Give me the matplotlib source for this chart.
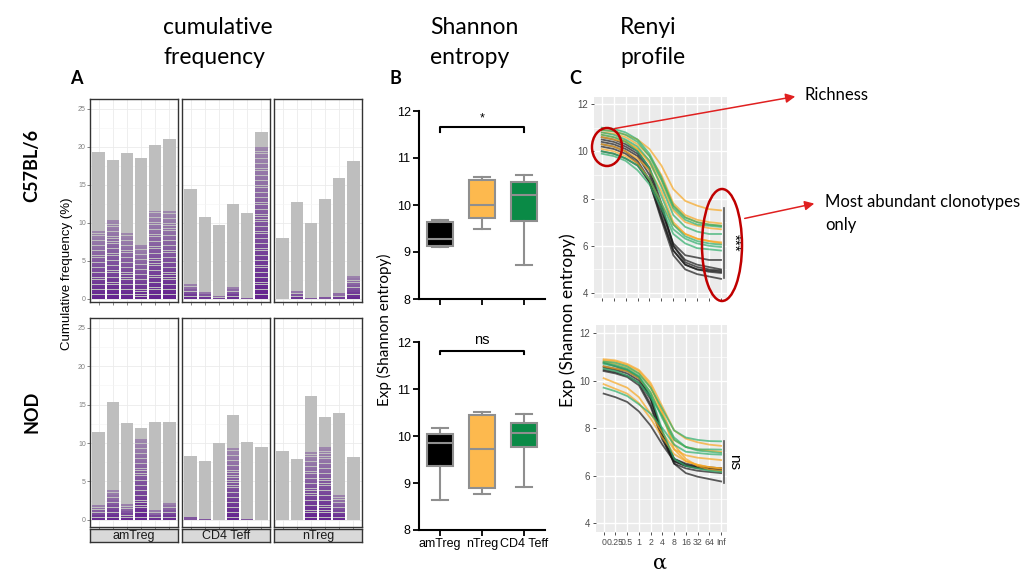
import numpy as np
import matplotlib.pyplot as plt
from matplotlib.patches import Ellipse

plt.rcParams['font.family'] = ['Liberation Sans', 'DejaVu Sans']

###############################################################################
# data

facet_names = ['amTreg', 'CD4 Teff', 'nTreg']

# cumulative frequency (%) : total bar height and height of the purple (top clonotypes) part
cum_b6_total = [[19.3, 18.3, 19.2, 18.6, 20.2, 21.1],
                [14.4, 10.8, 9.7, 12.5, 11.3, 21.9],
                [8.0, 12.8, 10.0, 13.1, 15.9, 18.1]]
cum_b6_purple = [[9.0, 10.5, 8.7, 7.2, 11.7, 11.6],
                 [2.0, 1.0, 0.5, 1.7, 0.2, 20.1],
                 [0.0, 1.1, 0.2, 0.3, 0.8, 3.1]]
cum_nod_total = [[11.5, 15.4, 12.6, 11.9, 12.8, 12.8],
                 [8.3, 7.7, 10.0, 13.6, 10.1, 9.5],
                 [8.9, 7.9, 16.1, 13.4, 13.9, 8.2]]
cum_nod_purple = [[2.0, 3.9, 2.1, 10.6, 1.3, 2.3],
                  [0.4, 0.2, 0.0, 9.4, 0.15, 0.0],
                  [0.0, 0.0, 8.9, 9.6, 3.3, 0.0]]

# Shannon entropy boxes : whislo, q1, med, q3, whishi
box_groups = ['amTreg', 'nTreg', 'CD4 Teff']
box_b6 = [[9.10, 9.12, 9.28, 9.63, 9.69],
          [9.50, 9.73, 10.00, 10.53, 10.60],
          [8.72, 9.65, 10.22, 10.48, 10.63]]
box_nod = [[8.63, 9.37, 9.86, 10.04, 10.16],
           [8.76, 8.89, 9.73, 10.44, 10.51],
           [8.92, 9.77, 10.07, 10.28, 10.46]]

# Renyi profiles
renyi_alpha = ['0', '0.25', '0.5', '1', '2', '4', '8', '16', '32', '64', 'Inf']
renyi_b6_amtreg = [[10.5, 10.4, 10.2, 9.9, 9.2, 7.6, 6.0, 5.4, 5.2, 5.1, 5.0],
                   [10.3, 10.2, 10.0, 9.6, 8.8, 7.3, 5.8, 5.2, 5.0, 4.9, 4.85],
                   [10.2, 10.1, 9.9, 9.5, 8.7, 7.1, 5.6, 5.0, 4.8, 4.7, 4.6],
                   [10.4, 10.3, 10.1, 9.8, 9.0, 7.5, 6.1, 5.6, 5.5, 5.4, 5.4],
                   [10.0, 9.9, 9.7, 9.4, 8.7, 7.2, 5.8, 5.2, 5.0, 4.95, 4.9],
                   [10.6, 10.5, 10.3, 10.0, 9.3, 7.8, 6.0, 5.3, 5.1, 5.0, 4.95]]
renyi_b6_ntreg = [[10.9, 10.85, 10.7, 10.5, 10.1, 9.4, 8.4, 7.9, 7.7, 7.55, 7.5],
                  [10.8, 10.75, 10.6, 10.3, 9.8, 9.0, 7.8, 7.3, 7.1, 7.0, 6.95],
                  [10.7, 10.6, 10.45, 10.1, 9.5, 8.6, 7.5, 7.0, 6.85, 6.75, 6.7],
                  [10.3, 10.2, 10.0, 9.7, 9.2, 8.3, 7.0, 6.5, 6.3, 6.2, 6.15],
                  [10.6, 10.5, 10.4, 10.1, 9.6, 8.8, 7.7, 7.2, 7.0, 6.9, 6.85],
                  [10.1, 10.0, 9.8, 9.5, 8.8, 7.8, 6.9, 6.5, 6.3, 6.2, 6.1]]
renyi_b6_teff = [[11.0, 10.95, 10.8, 10.5, 9.9, 8.9, 7.7, 7.2, 7.0, 6.9, 6.85],
                 [10.9, 10.85, 10.7, 10.4, 9.8, 8.8, 7.6, 7.1, 6.9, 6.85, 6.8],
                 [10.7, 10.6, 10.4, 10.0, 9.3, 8.1, 6.9, 6.4, 6.2, 6.1, 6.05],
                 [10.0, 9.9, 9.7, 9.4, 8.8, 7.8, 6.7, 6.3, 6.1, 6.0, 5.95],
                 [9.9, 9.8, 9.6, 9.2, 8.6, 7.6, 6.5, 6.1, 5.9, 5.85, 5.8],
                 [10.8, 10.7, 10.5, 10.2, 9.6, 8.5, 7.3, 6.8, 6.6, 6.5, 6.5]]
renyi_nod_amtreg = [[10.6, 10.5, 10.4, 10.1, 9.3, 7.8, 6.7, 6.5, 6.4, 6.35, 6.3],
                    [10.45, 10.35, 10.2, 9.9, 9.0, 7.6, 6.5, 6.3, 6.2, 6.15, 6.1],
                    [10.4, 10.3, 10.15, 9.8, 8.9, 7.5, 6.6, 6.4, 6.3, 6.25, 6.2],
                    [10.75, 10.6, 10.45, 10.15, 9.3, 7.7, 6.5, 6.1, 5.95, 5.85, 5.75],
                    [9.45, 9.3, 9.1, 8.7, 8.1, 7.3, 6.6, 6.4, 6.35, 6.3, 6.3],
                    [10.55, 10.45, 10.3, 10.0, 9.2, 7.7, 6.7, 6.45, 6.35, 6.3, 6.25]]
renyi_nod_ntreg = [[10.9, 10.85, 10.7, 10.45, 9.9, 8.9, 7.9, 7.55, 7.4, 7.3, 7.25],
                   [10.85, 10.8, 10.65, 10.4, 9.8, 8.6, 7.1, 6.6, 6.45, 6.35, 6.3],
                   [10.1, 9.9, 9.7, 9.3, 8.6, 7.8, 7.1, 6.85, 6.75, 6.7, 6.65],
                   [10.8, 10.7, 10.55, 10.3, 9.7, 8.7, 7.5, 7.2, 7.1, 7.05, 7.0],
                   [9.85, 9.65, 9.45, 9.05, 8.4, 7.6, 6.9, 6.6, 6.45, 6.35, 6.3],
                   [10.6, 10.5, 10.4, 10.1, 9.5, 8.5, 7.3, 6.7, 6.4, 6.25, 6.2]]
renyi_nod_teff = [[10.8, 10.75, 10.6, 10.3, 9.7, 8.8, 7.9, 7.6, 7.5, 7.45, 7.44],
                  [10.75, 10.65, 10.5, 10.2, 9.5, 8.4, 7.5, 7.2, 7.1, 7.1, 7.09],
                  [9.7, 9.55, 9.35, 9.0, 8.6, 8.0, 7.3, 7.0, 6.95, 6.9, 6.88],
                  [10.7, 10.6, 10.45, 10.15, 9.4, 7.9, 6.7, 6.4, 6.3, 6.2, 6.15],
                  [10.5, 10.4, 10.2, 9.9, 9.3, 8.5, 7.6, 7.2, 7.05, 7.0, 6.95]]

###############################################################################

W, H = 1035, 573
fig = plt.figure(figsize=(W / 100, H / 100), dpi=100)


def px_axes(l, t, r, b):
    # axes placed by pixel box (left, top, right, bottom)
    return fig.add_axes([l / W, 1 - b / H, (r - l) / W, (b - t) / H])


def purple_stack(ax, x, top):
    if top <= 0:
        return
    n = max(1, int(round(top / 0.32)))
    edges = np.linspace(0, top, n + 1)
    mids = (edges[:-1] + edges[1:]) / 2 / top
    cols = [(0.37, 0.10, 0.55, 0.95 - 0.62 * m) for m in mids]
    hts = np.maximum(np.diff(edges) - 0.08, 0.1)
    ax.bar(np.full(n, x), hts, bottom=edges[:-1], width=0.85, color=cols,
           linewidth=0, zorder=3)


# ---- A : cumulative frequency facets
facet_left = [90, 182, 274]
rows = [(99, 302, cum_b6_total, cum_b6_purple, (-0.4, 26.3)),
        (318, 527, cum_nod_total, cum_nod_purple, (-0.95, 26.3))]
for r, (top, bot, totals, purples, ylim) in enumerate(rows):
    for j in range(3):
        ax = px_axes(facet_left[j], top, facet_left[j] + 88, bot)
        x = np.arange(1, 7)
        ax.bar(x, totals[j], width=0.85, color='#BEBEBE', zorder=2)
        for xi, p in zip(x, purples[j]):
            purple_stack(ax, xi, p)
        ax.set_xlim(0.4, 6.6)
        ax.set_ylim(*ylim)
        ax.set_yticks([0, 5, 10, 15, 20, 25])
        ax.set_yticks([2.5, 7.5, 12.5, 17.5, 22.5], minor=True)
        ax.set_xticks(x)
        ax.set_xticklabels([])
        ax.grid(which='major', color='#EBEBEB', lw=0.6)
        ax.grid(which='minor', axis='y', color='#F4F4F4', lw=0.4)
        ax.set_axisbelow(True)
        ax.tick_params(which='major', length=2, width=0.5, color='#555555',
                       labelsize=5, labelcolor='#808080', pad=1)
        ax.tick_params(which='minor', length=0)
        if j > 0:
            ax.set_yticklabels([])
            ax.tick_params(axis='y', length=0)
        for s in ax.spines.values():
            s.set_color('#333333')
            s.set_linewidth(1.0)
        if r == 1:
            sa = px_axes(facet_left[j], 529, facet_left[j] + 88, 542)
            sa.set_facecolor('#D9D9D9')
            sa.set_xticks([])
            sa.set_yticks([])
            for s in sa.spines.values():
                s.set_color('#333333')
                s.set_linewidth(1.0)
            sa.text(0.5, 0.45, facet_names[j], ha='center', va='center',
                    fontsize=9, color='#1A1A1A', transform=sa.transAxes)

fig.text(67 / W, 1 - 274 / H, 'Cumulative frequency (%)', rotation=90,
         ha='center', va='center', fontsize=9.5)

# ---- B : Shannon entropy boxes
box_colors = ['#000000', '#FDB94E', '#0A8A46']
b_rows = [(111, 299, box_b6, '*', 11.65, 11.55, 11.72),
          (342, 530, box_nod, 'ns', 11.81, 11.74, 11.9)]
for r, (top, bot, vals, sig, sy, sy2, ty) in enumerate(b_rows):
    ax = px_axes(419, top, 545, bot)
    stats = [dict(whislo=v[0], q1=v[1], med=v[2], q3=v[3], whishi=v[4])
             for v in vals]
    bp = ax.bxp(stats, positions=[1, 2, 3], widths=0.63, capwidths=0.4,
                patch_artist=True, showfliers=False,
                boxprops=dict(edgecolor='#8F8F8F', linewidth=1.5),
                medianprops=dict(color='#8F8F8F', linewidth=1.5),
                whiskerprops=dict(color='#8F8F8F', linewidth=1.5),
                capprops=dict(color='#8F8F8F', linewidth=1.5))
    for patch, c in zip(bp['boxes'], box_colors):
        patch.set_facecolor(c)
    ax.set_xlim(0.5, 3.5)
    ax.set_ylim(8, 12)
    ax.set_yticks([8, 9, 10, 11, 12])
    ax.set_xticks([1, 2, 3])
    if r == 0:
        ax.set_xticklabels([])
    else:
        ax.set_xticklabels(box_groups)
    ax.tick_params(length=4, width=1.3, labelsize=9, pad=2)
    for s in ['top', 'right']:
        ax.spines[s].set_visible(False)
    for s in ['left', 'bottom']:
        ax.spines[s].set_linewidth(1.5)
    ax.plot([1, 1, 3, 3], [sy2, sy, sy, sy2], color='black', lw=1.5,
            clip_on=False)
    ax.text(2, ty, sig, ha='center', va='bottom',
            fontsize=9 if sig == '*' else 10.5, clip_on=False)

fig.text(384 / W, 1 - 330 / H, 'Exp (Shannon entropy)', rotation=90,
         ha='center', va='center', fontsize=11, family=['Lato', 'DejaVu Sans'])

# ---- C : Renyi profiles
line_cols = {'amTreg': '#1A1A1A', 'nTreg': '#F7A723', 'CD4 Teff': '#2FAE6B'}
c_rows = [((594, 97, 727, 298), (3.79, 12.3),
           [renyi_b6_amtreg, renyi_b6_ntreg, renyi_b6_teff]),
          ((596, 325, 727, 532), (3.62, 12.34),
           [renyi_nod_amtreg, renyi_nod_ntreg, renyi_nod_teff])]
xpos = np.arange(1, len(renyi_alpha) + 1)
for r, (box, ylim, sets) in enumerate(c_rows):
    ax = px_axes(*box)
    ax.set_facecolor('#EBEBEB')
    for name, lines in zip(['amTreg', 'nTreg', 'CD4 Teff'], sets):
        for ln in lines:
            ax.plot(xpos, ln, color=line_cols[name], lw=1.3, alpha=0.7)
    ax.set_xlim(0.35, 11.5)
    ax.set_ylim(*ylim)
    ax.set_yticks([4, 6, 8, 10, 12])
    ax.set_yticks([5, 7, 9, 11], minor=True)
    ax.set_xticks(xpos)
    if r == 0:
        ax.set_xticklabels([])
    else:
        ax.set_xticklabels(renyi_alpha)
    ax.grid(which='major', color='white', lw=1.0)
    ax.grid(which='minor', axis='y', color='white', lw=0.5)
    ax.set_axisbelow(True)
    ax.tick_params(which='major', length=2.5, width=0.6, color='#333333',
                   labelsize=7, labelcolor='#4D4D4D', pad=1.5)
    ax.tick_params(axis='x', labelsize=6.3)
    ax.tick_params(which='minor', length=0)
    for s in ax.spines.values():
        s.set_visible(False)

fig.text(568 / W, 1 - 320 / H, 'Exp (Shannon entropy)', rotation=90,
         ha='center', va='center', fontsize=12.5, family=['Lato', 'DejaVu Sans'],
         bbox=dict(facecolor='white', edgecolor='none', pad=0.5), zorder=10)
fig.text(660 / W, 1 - 563 / H, 'α', ha='center', va='center', fontsize=15,
         family=['DejaVu Serif'])

# ---- overlay for headers and annotations
ov = fig.add_axes([0, 0, 1, 1], zorder=20)
ov.set_xlim(0, W)
ov.set_ylim(H, 0)
ov.axis('off')
ov.patch.set_alpha(0)

hfont = ['Lato', 'DejaVu Sans']
for x0, l1, l2 in [(163, 'cumulative', 'frequency'), (430, 'Shannon', 'entropy'),
                   (620, 'Renyi', 'profile')]:
    ov.text(x0, 27, l1, fontsize=16.5, family=hfont, va='center', ha='left')
    ov.text(x0, 57, l2, fontsize=16.5, family=hfont, va='center', ha='left')
for x0, lab in [(76, 'A'), (395, 'B'), (575, 'C')]:
    ov.text(x0, 79, lab, fontsize=13, fontweight='bold', family=hfont,
            ha='center', va='center')
ov.text(32, 165, 'C57BL/6', rotation=90, fontsize=13, fontweight='bold',
        family=hfont, ha='center', va='center')
ov.text(32, 412, 'NOD', rotation=90, fontsize=13, fontweight='bold',
        family=hfont, ha='center', va='center')

ov.add_patch(Ellipse((607, 147), 30, 38, fill=False, edgecolor='#C00000', lw=1.8))
ov.add_patch(Ellipse((722, 245), 40, 112, fill=False, edgecolor='#C00000', lw=1.8))
arrow = dict(arrowstyle='-|>', color='#E02020', lw=1.1, mutation_scale=14)
ov.annotate('', xy=(798, 96), xytext=(612, 129), arrowprops=arrow)
ov.annotate('', xy=(817, 203), xytext=(742, 219), arrowprops=arrow)
ov.text(804, 95, 'Richness', fontsize=12, family=hfont, va='center')
ov.text(825, 202, 'Most abundant clonotypes', fontsize=12, family=hfont, va='center')
ov.text(825, 225, 'only', fontsize=12, family=hfont, va='center')

ov.plot([724, 724], [208, 278], color='#555555', lw=1.2)
ov.text(734, 243, '***', rotation=270, fontsize=11, ha='center', va='center')
ov.plot([724, 724], [441, 483], color='#555555', lw=1.2)
ov.text(734, 462, 'ns', rotation=270, fontsize=11, ha='center', va='center')

fig.savefig('out.png', dpi=100)
